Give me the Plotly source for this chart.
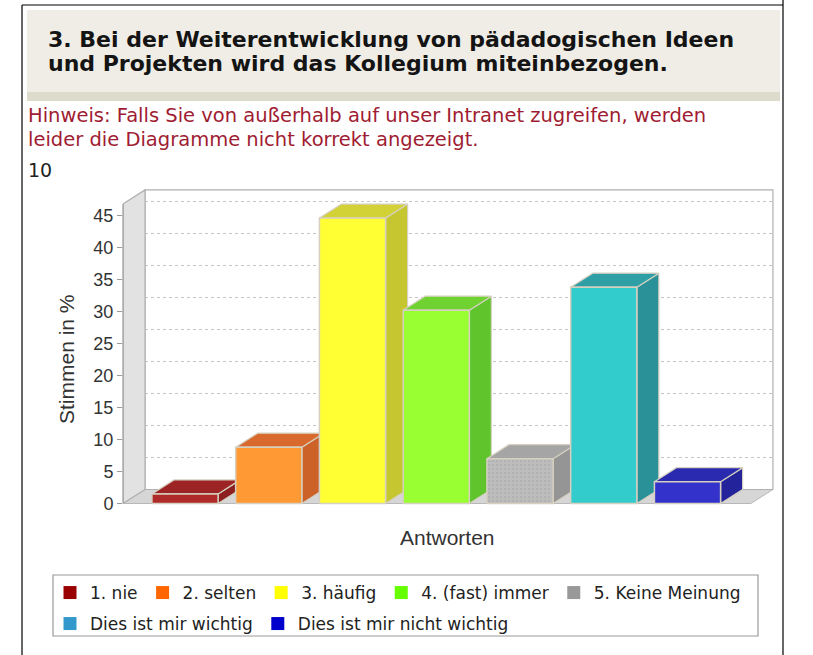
import plotly.graph_objects as go

# ---------------- data ----------------
categories = ["1. nie", "2. selten", "3. häufig", "4. (fast) immer",
              "5. Keine Meinung", "Dies ist mir wichtig", "Dies ist mir nicht wichtig"]
values = [1.5, 8.8, 44.6, 30.2, 7.0, 33.8, 3.4]
y_ticks = [0, 5, 10, 15, 20, 25, 30, 35, 40, 45]

title_lines = ["3. Bei der Weiterentwicklung von pädadogischen Ideen",
               "und Projekten wird das Kollegium miteinbezogen."]
hint_lines = ["Hinweis: Falls Sie von außerhalb auf unser Intranet zugreifen, werden",
              "leider die Diagramme nicht korrekt angezeigt."]
count_label = "10"
y_title = "Stimmen in %"
x_title = "Antworten"

# ---------------- styles ----------------
front_colors = ["#b02a2a", "#ff9933", "#ffff33", "#99ff33", "#bdbdbd", "#33cccc", "#3333cc"]
top_colors = ["#9c2424", "#d86a2e", "#d2d236", "#6fd230", "#a5a5a5", "#2f9fa6", "#2a2ab0"]
side_colors = ["#8c2020", "#cc6228", "#c6c630", "#60c42c", "#959595", "#2a9199", "#23239c"]
legend_colors = ["#990000", "#ff6600", "#ffff00", "#66ff00", "#999999", "#3399cc", "#0000cc"]
edge_color = "rgb(214,208,192)"

W, H = 813, 655
L, R, T, B = 123, 37, 187, 150
PW, PH = W - L - R, H - T - B

X_RANGE = [-0.7403, 7.0567]
Y_RANGE = [-0.234, 49.45]

BAR_W = 0.79
DX, DY = 0.263, 2.19          # pseudo-3D depth offset (data units)
X_LEFT, X_RIGHT = -0.7403, 7.02
WALL_TOP = 49.0


def pxx(px):
    return (px - L) / PW


def pyy(py):
    return (H - B - py) / PH


def ydata_to_paper(v):
    return (v - Y_RANGE[0]) / (Y_RANGE[1] - Y_RANGE[0])


fig = go.Figure()


def poly(xs, ys, fill, line=edge_color, lw=1.2, pattern=None):
    kw = {}
    if pattern:
        kw["fillpattern"] = pattern
    fig.add_trace(go.Scatter(
        x=xs + [xs[0]], y=ys + [ys[0]], mode="lines", fill="toself",
        fillcolor=fill, line=dict(color=line, width=lw),
        hoverinfo="skip", showlegend=False, **kw))


# floor
poly([X_LEFT, X_RIGHT - DX, X_RIGHT, X_LEFT + DX], [0, 0, DY, DY], "#d6d6d6", line="#b8b8b8", lw=1)
# back wall
poly([X_LEFT + DX, X_RIGHT, X_RIGHT, X_LEFT + DX], [DY, DY, WALL_TOP, WALL_TOP], "#ffffff", line="#b0b0b0", lw=1.2)
# left wall
poly([X_LEFT, X_LEFT, X_LEFT + DX, X_LEFT + DX], [0, WALL_TOP - DY, WALL_TOP, DY], "#e2e2e2", line="#b0b0b0", lw=1.2)

# dotted grid lines on back wall
gx, gy = [], []
for t in y_ticks[1:]:
    gx += [X_LEFT + DX, X_RIGHT, None]
    gy += [t + DY, t + DY, None]
fig.add_trace(go.Scatter(x=gx, y=gy, mode="lines", line=dict(color="#c4c4c4", width=1, dash="dot"),
                         hoverinfo="skip", showlegend=False))

# bars (front, top, side)
for i, v in enumerate(values):
    xl, xr = i - BAR_W / 2, i + BAR_W / 2
    pat = None
    if i == 4:
        pat = dict(shape=".", fgcolor="#a6a6a6", bgcolor=front_colors[i], size=4, solidity=0.3)
    # side face
    poly([xr, xr + DX, xr + DX, xr], [0, DY, v + DY, v], side_colors[i])
    # top face
    poly([xl, xr, xr + DX, xl + DX], [v, v, v + DY, v + DY], top_colors[i])
    # front face
    poly([xl, xr, xr, xl], [0, 0, v, v], front_colors[i], lw=1.5, pattern=pat)

# legend entries
for i, (name, col) in enumerate(zip(categories, legend_colors)):
    fig.add_trace(go.Scatter(
        x=[None], y=[None], mode="markers", name=name,
        marker=dict(symbol="square", size=13, color=col),
        legend="legend" if i < 5 else "legend2"))

shapes = []
# page frame lines
shapes.append(dict(type="line", xref="paper", yref="paper", x0=pxx(22), x1=pxx(22), y0=pyy(5), y1=pyy(655),
                   line=dict(color="#000", width=1.2)))
shapes.append(dict(type="line", xref="paper", yref="paper", x0=pxx(783), x1=pxx(783), y0=pyy(0), y1=pyy(655),
                   line=dict(color="#000", width=1.2)))
shapes.append(dict(type="line", xref="paper", yref="paper", x0=pxx(22), x1=pxx(783), y0=pyy(5), y1=pyy(5),
                   line=dict(color="#000", width=1.2)))
# title box
shapes.append(dict(type="rect", xref="paper", yref="paper", x0=pxx(27), x1=pxx(780), y0=pyy(10), y1=pyy(92),
                   fillcolor="#efede6", line=dict(width=0), layer="below"))
shapes.append(dict(type="rect", xref="paper", yref="paper", x0=pxx(27), x1=pxx(780), y0=pyy(92), y1=pyy(101),
                   fillcolor="#dcdbcc", line=dict(width=0), layer="below"))
# y axis line
shapes.append(dict(type="line", xref="paper", yref="paper", x0=0, x1=0,
                   y0=ydata_to_paper(0), y1=ydata_to_paper(WALL_TOP - DY),
                   line=dict(color="#9a9a9a", width=1.2)))
# legend box
shapes.append(dict(type="rect", xref="paper", yref="paper", x0=pxx(53), x1=pxx(758), y0=pyy(575), y1=pyy(636),
                   fillcolor="rgba(0,0,0,0)", line=dict(color="#9a9a9a", width=1.2)))

annotations = []
for k, line in enumerate(title_lines):
    annotations.append(dict(text=line, xref="paper", yref="paper", x=pxx(46), y=pyy(39 + 25 * k),
                            xanchor="left", yanchor="middle", showarrow=False,
                            font=dict(family="DejaVu Sans", size=22, color="#141414", weight="bold")))
for k, line in enumerate(hint_lines):
    annotations.append(dict(text=line, xref="paper", yref="paper", x=pxx(26), y=pyy(115 + 24 * k),
                            xanchor="left", yanchor="middle", showarrow=False,
                            font=dict(family="DejaVu Sans", size=19.5, color="#a01c32")))
annotations.append(dict(text=count_label, xref="paper", yref="paper", x=pxx(26), y=pyy(170),
                        xanchor="left", yanchor="middle", showarrow=False,
                        font=dict(family="DejaVu Sans", size=19, color="#222")))
annotations.append(dict(text=y_title, xref="paper", yref="paper", x=pxx(66), y=pyy(359),
                        xanchor="center", yanchor="middle", showarrow=False, textangle=-90,
                        font=dict(family="Liberation Sans", size=21, color="#333")))
annotations.append(dict(text=x_title, xref="paper", yref="paper", x=pxx(447), y=pyy(537),
                        xanchor="center", yanchor="middle", showarrow=False,
                        font=dict(family="Liberation Sans", size=21, color="#333")))

legend_font = dict(family="DejaVu Sans", size=17, color="#222")
fig.update_layout(
    width=W, height=H,
    margin=dict(l=L, r=R, t=T, b=B, pad=0),
    paper_bgcolor="white", plot_bgcolor="white",
    xaxis=dict(range=X_RANGE, showgrid=False, zeroline=False, showticklabels=False, ticks="",
               showline=False, fixedrange=True),
    yaxis=dict(range=Y_RANGE, tickvals=y_ticks, ticks="outside", ticklen=5, tickcolor="#9a9a9a",
               tickfont=dict(family="Liberation Sans", size=18, color="#333"),
               showgrid=False, zeroline=False, showline=False, fixedrange=True),
    showlegend=True,
    legend=dict(orientation="h", x=pxx(50), xanchor="left", y=pyy(593), yanchor="middle",
                font=legend_font, bgcolor="rgba(0,0,0,0)", borderwidth=0, traceorder="normal"),
    legend2=dict(orientation="h", x=pxx(50), xanchor="left", y=pyy(624), yanchor="middle",
                 font=legend_font, bgcolor="rgba(0,0,0,0)", borderwidth=0, traceorder="normal"),
    shapes=shapes,
    annotations=annotations,
)

fig.write_html("out.html", config={"displayModeBar": False},
               post_script="document.body.style.margin='0px';")
